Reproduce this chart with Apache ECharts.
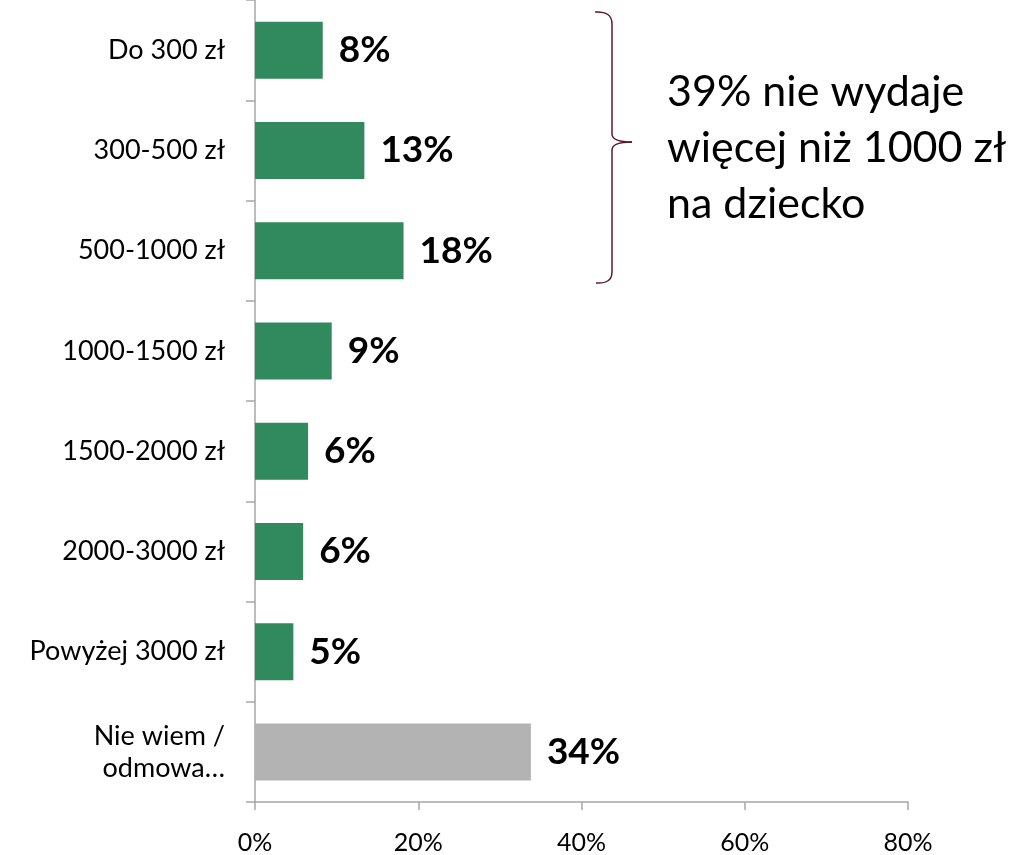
<!DOCTYPE html>
<html>
<head>
<meta charset="utf-8">
<script src="https://cdn.jsdelivr.net/npm/echarts@6/dist/echarts.min.js"></script>
<style>
  html, body { margin: 0; padding: 0; background: #fff; }
  #chart { width: 1012px; height: 855px; }
</style>
</head>
<body>
<div id="chart"></div>
<script>
const categories = ['Do 300 zł', '300-500 zł', '500-1000 zł', '1000-1500 zł', '1500-2000 zł', '2000-3000 zł', 'Powyżej 3000 zł', 'Nie wiem /\nodmowa…'];
const values = [8.3, 13.4, 18.2, 9.4, 6.5, 5.9, 4.7, 33.8];
const valueLabels = ['8%', '13%', '18%', '9%', '6%', '6%', '5%', '34%'];
const barColors = ['#318a5d', '#318a5d', '#318a5d', '#318a5d', '#318a5d', '#318a5d', '#318a5d', '#b3b3b3'];
const xTicks = { min: 0, max: 80, interval: 20 };
const noteLines = ['39% nie wydaje', 'więcej niż 1000 zł', 'na dziecko'];

const font = 'Lato, "Open Sans", sans-serif';

const chart = echarts.init(document.getElementById('chart'));

// curly brace next to the first three bars
const braceStyle = { fill: 'none', stroke: '#5c1a2c', lineWidth: 1.5 };
function curve(x1, y1, cx, cy, x2, y2) {
    return { type: 'bezierCurve', shape: { x1: x1, y1: y1, cpx1: cx, cpy1: cy, x2: x2, y2: y2 }, style: braceStyle };
}
function seg(x1, y1, x2, y2) {
    return { type: 'line', shape: { x1: x1, y1: y1, x2: x2, y2: y2 }, style: braceStyle };
}

const option = {
    animation: false,
    grid: { left: 255, right: 104, top: -1, bottom: 51, containLabel: false },
    xAxis: {
        type: 'value',
        min: xTicks.min,
        max: xTicks.max,
        interval: xTicks.interval,
        axisLine: { show: true, lineStyle: { color: '#a6a6a6', width: 1.5 } },
        axisTick: { show: true, inside: false, length: 8, lineStyle: { color: '#a6a6a6', width: 1.5 } },
        splitLine: { show: false },
        axisLabel: {
            formatter: '{value}%',
            color: '#000',
            fontSize: 25,
            fontFamily: font,
            margin: 28
        }
    },
    yAxis: {
        type: 'category',
        inverse: true,
        data: categories,
        axisLine: { show: true, lineStyle: { color: '#a6a6a6', width: 1.5 } },
        axisTick: { show: true, inside: false, length: 9, lineStyle: { color: '#a6a6a6', width: 1.5 } },
        axisLabel: {
            color: '#000',
            fontSize: 27,
            fontFamily: font,
            margin: 30,
            lineHeight: 32,
            align: 'right'
        }
    },
    series: [{
        type: 'bar',
        barWidth: 57,
        data: values.map((v, i) => ({
            value: v,
            itemStyle: { color: barColors[i] },
            label: { formatter: valueLabels[i] }
        })),
        label: {
            show: true,
            position: 'right',
            distance: 16,
            color: '#000',
            fontSize: 37,
            fontWeight: 'bold',
            fontFamily: font
        }
    }],
    graphic: [
        curve(595, 12, 612, 11, 612, 24),
        seg(612, 24, 612, 134),
        curve(612, 134, 612, 142, 632, 142),
        curve(632, 142, 612, 142, 612, 150),
        seg(612, 150, 612, 272),
        curve(612, 272, 612, 284, 596, 283),
        {
            type: 'text',
            left: 667,
            top: 64,
            style: {
                text: noteLines.join('\n'),
                fontSize: 43,
                lineHeight: 56,
                fontFamily: font,
                fill: '#000'
            }
        }
    ]
};

chart.setOption(option);
</script>
</body>
</html>
